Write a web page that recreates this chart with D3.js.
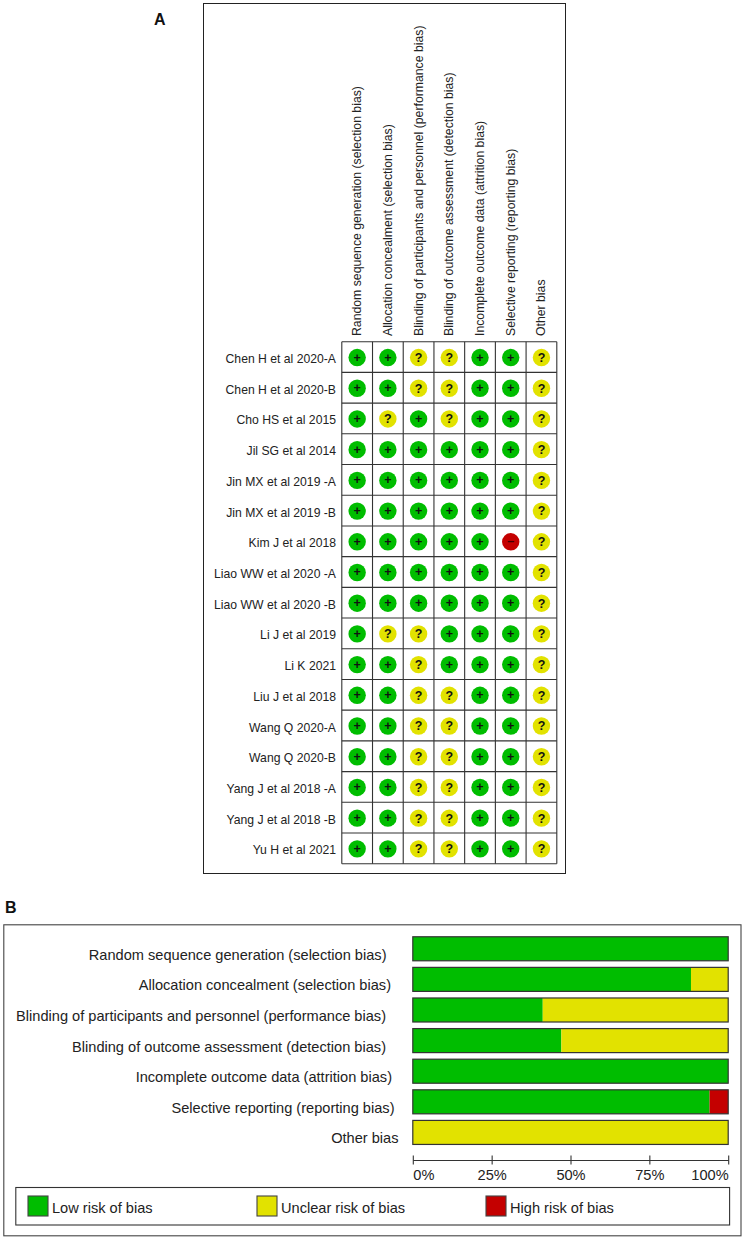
<!DOCTYPE html>
<html><head><meta charset="utf-8">
<script src="https://cdn.jsdelivr.net/npm/d3@7"></script>
<style>html,body{margin:0;padding:0;background:#fff}svg{display:block}text{font-family:"Liberation Sans",Arial,sans-serif;fill:#222}</style>
</head><body><svg id="c" width="744" height="1240"></svg>
<script>
const domains=["Random sequence generation (selection bias)","Allocation concealment (selection bias)","Blinding of participants and personnel (performance bias)","Blinding of outcome assessment (detection bias)","Incomplete outcome data (attrition bias)","Selective reporting (reporting bias)","Other bias"];
const studies=["Chen H et al 2020-A","Chen H et al 2020-B","Cho HS et al 2015","Jil SG et al 2014","Jin MX et al 2019 -A","Jin MX et al 2019 -B","Kim J et al 2018","Liao WW et al 2020 -A","Liao WW et al 2020 -B","Li J et al 2019","Li K 2021","Liu J et al 2018","Wang Q 2020-A","Wang Q 2020-B","Yang J et al 2018 -A","Yang J et al 2018 -B","Yu H et al 2021"];
const judgements=["++??++?","++??++?","+?+?++?","++++++?","++++++?","++++++?","+++++-?","++++++?","++++++?","+??+++?","++?+++?","++??++?","++??++?","++??++?","++??++?","++??++?","++??++?"];
const lowPct=[100,88.2,41.2,47.1,100,94.1,0];
const unclearPct=[0,11.8,58.8,52.9,0,0,100];
const highPct=[0,0,0,0,0,5.9,0];
const ticks=[0,25,50,75,100];
const legendLabels=["Low risk of bias","Unclear risk of bias","High risk of bias"];
const colors={low:"#00bd00",unclear:"#e2e200",high:"#c40000"};
const labelShift=[-12,-7.5,-12.5,-12.5,-6.5,-4,0];

const svg=d3.select("#c");
const dark="#333";
svg.append("text").attr("x",154).attr("y",25.3).attr("font-size",16).attr("font-weight","bold").style("fill","#111").text("A");
svg.append("text").attr("x",5).attr("y",913).attr("font-size",16).attr("font-weight","bold").style("fill","#111").text("B");
svg.append("rect").attr("x",203.5).attr("y",3.5).attr("width",362).attr("height",870).attr("fill","none").attr("stroke","#222").attr("stroke-width",1);

// Panel A
const cx=d3.scaleBand().domain(domains).range([341.8,556.8]);
const cy=d3.scaleBand().domain(studies).range([341.7,863.7]);
const pA=svg.append("g");
pA.selectAll("line.v").data(d3.range(domains.length+1)).join("line").attr("x1",i=>341.8+i*cx.step()).attr("x2",i=>341.8+i*cx.step()).attr("y1",341.7).attr("y2",863.7).attr("stroke",dark).attr("stroke-width",1.1);
pA.selectAll("line.h").data(d3.range(studies.length+1)).join("line").attr("y1",i=>341.7+i*cy.step()).attr("y2",i=>341.7+i*cy.step()).attr("x1",341.8).attr("x2",556.8).attr("stroke",dark).attr("stroke-width",1.1);
pA.selectAll("text.s").data(studies).join("text").attr("x",336).attr("y",d=>cy(d)+cy.bandwidth()/2+6).attr("text-anchor","end").attr("font-size",12.2).text(d=>d);
pA.selectAll("text.d").data(domains).join("text").attr("transform",d=>`translate(${cx(d)+cx.bandwidth()/2+4},336) rotate(-90)`).attr("font-size",12.25).text(d=>d);
const cells=studies.flatMap((s,r)=>domains.map((d,c)=>({s,d,v:judgements[r][c]})));
const col={"+":colors.low,"?":colors.unclear,"-":colors.high};
const cg=pA.selectAll("g.cell").data(cells).join("g").attr("transform",d=>`translate(${cx(d.d)+cx.bandwidth()/2},${cy(d.s)+cy.bandwidth()/2+0.5})`);
cg.append("circle").attr("r",8.7).attr("fill",d=>col[d.v]);
cg.append("text").attr("text-anchor","middle").attr("y",d=>d.v==="?"?4.4:d.v==="+"?4:3.5).attr("font-size",12.5).attr("font-weight","bold").style("fill",d=>d.v==="-"?"#400":"#111").text(d=>d.v==="-"?"\u2013":d.v);

// Panel B
svg.append("rect").attr("x",3.8).attr("y",924.8).attr("width",737.2).attr("height",311).attr("fill","none").attr("stroke","#444").attr("stroke-width",1.1);
const x=d3.scaleLinear().domain([0,100]).range([412.8,728.2]);
const y=d3.scaleBand().domain(domains).range([933.7,1147.5]).paddingInner(0.215).paddingOuter(0.1);
const rows=domains.map((d,i)=>({d,i,parts:[{k:"low",a:0,b:lowPct[i]},{k:"unclear",a:lowPct[i],b:lowPct[i]+unclearPct[i]},{k:"high",a:lowPct[i]+unclearPct[i],b:lowPct[i]+unclearPct[i]+highPct[i]}]}));
const rg=svg.append("g").selectAll("g").data(rows).join("g");
rg.selectAll("rect").data(r=>r.parts.filter(p=>p.b>p.a).map(p=>({...p,d:r.d}))).join("rect").attr("x",p=>x(p.a)).attr("width",p=>x(p.b)-x(p.a)).attr("y",p=>y(p.d)).attr("height",y.bandwidth()).attr("fill",p=>colors[p.k]);
rg.append("rect").attr("x",x(0)).attr("width",x(100)-x(0)).attr("y",r=>y(r.d)).attr("height",y.bandwidth()).attr("fill","none").attr("stroke",dark).attr("stroke-width",1.2);
rg.append("text").attr("x",r=>398.5+labelShift[r.i]).attr("y",r=>y(r.d)+y.bandwidth()/2+11).attr("text-anchor","end").attr("font-size",14.6).text(r=>r.d);

const ax=svg.append("g").attr("transform","translate(0,1160)").call(d3.axisBottom(x).tickValues(ticks).tickFormat(d=>d+"%").tickSize(0));
ax.select(".domain").attr("stroke",dark).attr("stroke-width",1.2);
ax.selectAll(".tick line").attr("y1",-4.5).attr("y2",4.5).attr("stroke",dark).attr("stroke-width",1.1);
ax.selectAll(".tick text").attr("y",10).attr("dy","0.71em").attr("font-size",14.6).attr("font-family",null).attr("text-anchor",d=>d===0?"start":d===100?"end":"middle");

svg.append("rect").attr("x",15.8).attr("y",1187.5).attr("width",713.8).attr("height",37.5).attr("fill","none").attr("stroke",dark).attr("stroke-width",1.1);
const legX=d3.scalePoint().domain(legendLabels).range([28,486]);
const legKeys=[colors.low,colors.unclear,colors.high];
const lg=svg.append("g").selectAll("g").data(legendLabels).join("g").attr("transform",d=>`translate(${legX(d)},1196)`);
lg.append("rect").attr("width",20).attr("height",20).attr("fill",(d,i)=>legKeys[i]).attr("stroke","#444").attr("stroke-width",1.1);
lg.append("text").attr("x",24).attr("y",17).attr("font-size",14.6).text(d=>d);
</script></body></html>
